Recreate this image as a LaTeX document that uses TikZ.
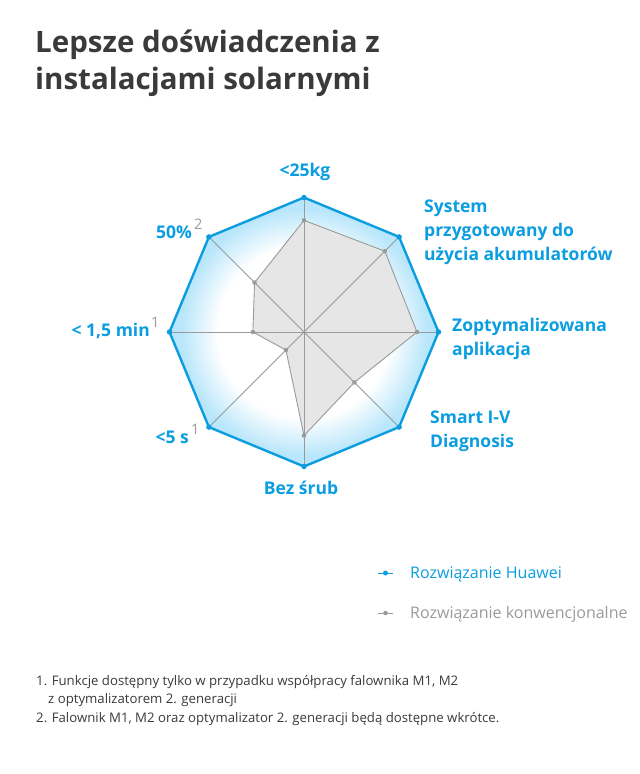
\documentclass[tikz,border=0pt]{standalone}
\usepackage{fontspec}
\setmainfont{Open Sans}
\usetikzlibrary{calc}
\definecolor{hblue}{HTML}{0A9DE0}
\definecolor{tgray}{HTML}{3A3A3A}
\definecolor{lgray}{HTML}{9A9A9A}
\definecolor{glowc}{HTML}{B8E6FB}
\definecolor{pfill}{HTML}{E6E6E6}
\pgfdeclareradialshading{glow}{\pgfpoint{0bp}{0bp}}{color(0bp)=(white); color(16bp)=(white); color(23bp)=(glowc); color(50bp)=(glowc)}
\tikzset{
 lab/.style={text=hblue,font=\bfseries\fontsize{17.5}{24}\selectfont,inner sep=0pt},
 supl/.style={text=lgray,font=\fontsize{14.5}{14}\selectfont,inner sep=0pt},
 bdot/.style={circle,fill=hblue,inner sep=0pt,minimum size=5.5pt},
 gdot/.style={circle,fill=lgray,inner sep=0pt,minimum size=4.5pt},
 foot/.style={text=tgray,font=\fontsize{13.2}{18}\selectfont,inner sep=0pt,anchor=base west},
 legt/.style={font=\fontsize{16}{18}\selectfont,inner sep=0pt,anchor=base west}
}
\begin{document}
\begin{tikzpicture}[x=1pt,y=-1pt]
\useasboundingbox (0,0) rectangle (640,774);
\node[anchor=north west,text=tgray,font=\bfseries\fontsize{29.5}{37}\selectfont,align=left,inner sep=0pt] (title) at (35,30) {Lepsze doświadczenia z\\instalacjami solarnymi};
\begin{scope}[shift={(304,332)},yscale=-1]
\def\R{134.5}
\coordinate (c) at (0,0);
\foreach \i/\f in {0/0.83,1/0.85,2/0.84,3/0.53,4/0.77,5/0.19,6/0.38,7/0.52}{
  \coordinate (v\i) at ({90-45*\i}:\R);
  \coordinate (g\i) at ({90-45*\i}:\f*\R);
}
\shade[shading=glow] (v0)--(v1)--(v2)--(v3)--(v4)--(v5)--(v6)--(v7)--cycle;
\fill[pfill,draw=lgray,line width=0.9pt] (g0)--(g1)--(g2)--(g3)--(g4)--(g5)--(g6)--(g7)--cycle;
\foreach \i in {0,...,7}{\draw[lgray,line width=0.8pt] (c)--(v\i);}
\draw[hblue,line width=2.4pt,line join=miter] (v0)--(v1)--(v2)--(v3)--(v4)--(v5)--(v6)--(v7)--cycle;
\foreach \i in {0,...,7}{\node[bdot] (bd\i) at (v\i) {}; \node[gdot] (gd\i) at (g\i) {};}
\end{scope}
\node[lab,anchor=base] (l0) at (305,176) {<25kg};
\node[lab,anchor=north west,align=left] (l1) at (424,200) {System\\przygotowany do\\użycia akumulatorów};
\node[lab,anchor=north west,align=left] (l2) at (452,318) {Zoptymalizowana\\aplikacja};
\node[lab,anchor=north west,align=left] (l3) at (430,411) {Smart I-V\\Diagnosis};
\node[lab,anchor=base] (l4) at (301,494) {Bez śrub};
\node[lab,anchor=base east] (l5) at (189,443) {<5 s};
\node[supl,anchor=base west] (s5) at (191,434) {1};
\node[lab,anchor=base east] (l6) at (150,336) {< 1,5 min};
\node[supl,anchor=base west] (s6) at (151,327) {1};
\node[lab,anchor=base east] (l7) at (192,238) {50\%};
\node[supl,anchor=base west] (s7) at (194,229) {2};
% legend
\coordinate (a1) at (378,573); \coordinate (b1) at (393,573);
\draw[hblue,line width=1pt] (a1)--(b1);
\node[bdot,minimum size=5pt] (ld1) at ($(a1)!0.5!(b1)$) {};
\node[legt,text=hblue] (lt1) at (410,578) {Rozwiązanie Huawei};
\coordinate (a2) at (378,613); \coordinate (b2) at (393,613);
\draw[lgray,line width=1pt] (a2)--(b2);
\node[gdot] (ld2) at ($(a2)!0.5!(b2)$) {};
\node[legt,text=lgray] (lt2) at (410,618) {Rozwiązanie konwencjonalne};
% footnotes
\node[foot] (f1) at (36,685) {1. Funkcje dostępny tylko w przypadku współpracy falownika M1, M2};
\node[foot] (f1b) at (48,703) {z optymalizatorem 2. generacji};
\node[foot] (f2) at (36,722) {2. Falownik M1, M2 oraz optymalizator 2. generacji będą dostępne wkrótce.};
\end{tikzpicture}
\end{document}
